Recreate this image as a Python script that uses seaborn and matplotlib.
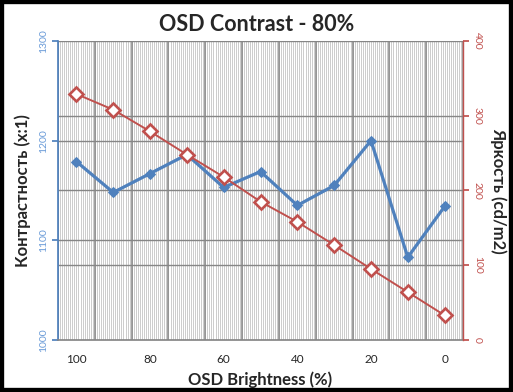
import matplotlib

matplotlib.use("Agg")
import matplotlib.pyplot as plt
import matplotlib.transforms as mtransforms
import numpy as np
import pandas as pd
import seaborn as sns
from matplotlib.patches import Rectangle

# data
brightness = ["100", "90", "80", "70", "60", "50", "40", "30", "20", "10", "0"]
contrast = [1179, 1148, 1167, 1186, 1153, 1169, 1135, 1155, 1200, 1083, 1134]
luminance = [329, 308, 279, 248, 218, 185, 158, 127, 95, 64, 33]

BLUE = "#4F81BD"
RED = "#C0504D"
GRID = "#868686"

sns.set_theme(style="white")
plt.rcParams["font.family"] = ["Lato", "Open Sans", "DejaVu Sans"]

df = pd.DataFrame({"brightness": brightness, "contrast": contrast, "luminance": luminance})
df["pos"] = np.arange(len(df))

fig = plt.figure(figsize=(5.13, 3.92), dpi=100)
ax1 = fig.add_axes([0.1131, 0.1327, 0.7895, 0.7628])
ax2 = ax1.twinx()

n = len(brightness)
ax1.set_xlim(-0.5, n - 0.5)
ax1.set_ylim(1000, 1300)
ax2.set_ylim(0, 400)

# dense minor vertical stripes + category boundaries
ax1.vlines(np.arange(-0.5, n - 0.5, 1 / 18), 0, 1, transform=ax1.get_xaxis_transform(),
           colors="#c4c4c4", lw=0.6, zorder=0)
ax1.vlines(np.arange(n + 1) - 0.5, 0, 1, transform=ax1.get_xaxis_transform(),
           colors=GRID, lw=1.1, zorder=0.5)

# horizontal gridlines for both axes, drawn behind everything
left_ticks = [1000, 1100, 1200, 1300]
right_ticks = [0, 100, 200, 300, 400]
for v in left_ticks[1:]:
    ax1.axhline(v, color=GRID, lw=1.0, zorder=0.5)
blend = mtransforms.blended_transform_factory(ax1.transAxes, ax2.transData)
for v in right_ticks[1:-1]:
    ax1.plot([0, 1], [v, v], transform=blend, color=GRID, lw=1.0, zorder=0.5)

sns.lineplot(data=df, x="pos", y="contrast", ax=ax1, color=BLUE, lw=2.3,
             marker="D", markersize=5, markeredgecolor=BLUE, zorder=3)
sns.lineplot(data=df, x="pos", y="luminance", ax=ax2, color=RED, lw=1.4,
             marker="D", markersize=7, markerfacecolor="white",
             markeredgecolor=RED, markeredgewidth=1.9, zorder=3)

ax1.set_xticks(df["pos"])
ax1.set_xticklabels([b if i % 2 == 0 else "" for i, b in enumerate(brightness)], fontsize=8.5)
ax1.tick_params(axis="x", direction="in", length=3, color=GRID, pad=10)

ax1.set_yticks(left_ticks)
ax1.set_yticklabels([str(t) for t in left_ticks], rotation=90, va="center",
                    fontsize=7.5, color="#6a9bd8")
ax1.tick_params(axis="y", direction="out", length=4, color=BLUE, pad=3, left=True)

ax2.set_yticks(right_ticks)
ax2.set_yticklabels([str(t) for t in right_ticks], rotation=-90, va="center",
                    fontsize=7.5, color=RED)
ax2.tick_params(axis="y", direction="out", length=4, color=RED, pad=3, right=True)

for ax in (ax1, ax2):
    for s in ax.spines.values():
        s.set_visible(False)
ax1.spines["left"].set_visible(True)
ax1.spines["left"].set_color(BLUE)
ax1.spines["bottom"].set_visible(True)
ax1.spines["bottom"].set_color(GRID)
ax2.spines["right"].set_visible(True)
ax2.spines["right"].set_color(RED)
ax2.spines["right"].set_linewidth(1.0)

ax1.set_xlabel("OSD Brightness (%)", fontsize=12, fontweight="bold", labelpad=5)
ax1.set_ylabel("Контрастность (x:1)", fontsize=12, fontweight="bold", labelpad=6)
ax2.set_ylabel("Яркость (cd/m2)", fontsize=12, fontweight="bold", rotation=-90, labelpad=18)
fig.text(0.5, 0.937, "OSD Contrast - 80%", ha="center", va="center",
         fontsize=15.5, fontweight="bold")

fig.patches.append(Rectangle((0, 0), 1, 1, transform=fig.transFigure, fill=False,
                             lw=6, edgecolor="black"))

fig.savefig("out.png", dpi=100)
